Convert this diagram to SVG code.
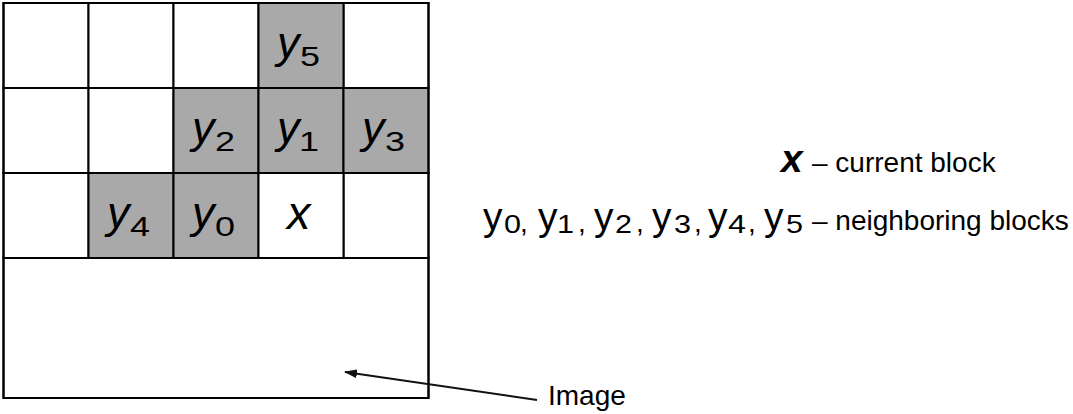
<svg xmlns="http://www.w3.org/2000/svg" width="1073" height="414" viewBox="0 0 1073 414">
  <style>
    .cell { fill: #ffffff; stroke: #000000; stroke-width: 2; }
    .cell.on { fill: #a9a9a9; }
    .frame { fill: none; stroke: #000000; stroke-width: 2; }
    .var { font-family: "Liberation Sans", Arial, sans-serif; font-style: italic; font-size: 45px; fill: #000; }
    .idx { font-family: "Liberation Sans", Arial, sans-serif; font-size: 28px; fill: #000; }
    .lbl { font-family: "Liberation Sans", Arial, sans-serif; font-size: 28px; fill: #000; }
    .ly { font-family: "Liberation Sans", Arial, sans-serif; font-size: 39px; fill: #000; }
    .lidx { font-family: "Liberation Sans", Arial, sans-serif; font-size: 25px; fill: #000; }
    .lx { font-family: "Liberation Sans", Arial, sans-serif; font-size: 39px; font-weight: bold; font-style: italic; fill: #000; }
    .conn { stroke: #111111; stroke-width: 2; fill: none; }
  </style>
  <defs>
    <marker id="head" viewBox="0 0 13 9" refX="12" refY="4.5" markerWidth="13" markerHeight="9" markerUnits="userSpaceOnUse" orient="auto">
      <path d="M0,0 L13,4.5 L0,9 Z" fill="#111111"/>
    </marker>
  </defs>

  <!-- block grid: three rows of five blocks -->
  <g id="grid">
    <rect class="cell" x="3.5" y="3" width="85" height="85"/>
    <rect class="cell" x="88.5" y="3" width="85" height="85"/>
    <rect class="cell" x="173.5" y="3" width="85" height="85"/>
    <rect class="cell" x="343.5" y="3" width="85" height="85"/>
    <rect class="cell" x="3.5" y="88" width="85" height="85"/>
    <rect class="cell" x="88.5" y="88" width="85" height="85"/>
    <rect class="cell" x="3.5" y="173" width="85" height="85"/>
    <rect class="cell" x="343.5" y="173" width="85" height="85"/>
  </g>

  <g id="y5">
    <rect class="cell on" x="258.5" y="3" width="85" height="85"/>
    <text class="var" x="277" y="58">y</text>
    <text class="idx" x="300" y="66" textLength="20" lengthAdjust="spacingAndGlyphs">5</text>
  </g>
  <g id="y2">
    <rect class="cell on" x="173.5" y="88" width="85" height="85"/>
    <text class="var" x="192" y="143">y</text>
    <text class="idx" x="215" y="151" textLength="20" lengthAdjust="spacingAndGlyphs">2</text>
  </g>
  <g id="y1">
    <rect class="cell on" x="258.5" y="88" width="85" height="85"/>
    <text class="var" x="277" y="143">y</text>
    <text class="idx" x="299" y="151" textLength="20" lengthAdjust="spacingAndGlyphs">1</text>
  </g>
  <g id="y3">
    <rect class="cell on" x="343.5" y="88" width="85" height="85"/>
    <text class="var" x="362" y="143">y</text>
    <text class="idx" x="385" y="151" textLength="20" lengthAdjust="spacingAndGlyphs">3</text>
  </g>
  <g id="y4">
    <rect class="cell on" x="88.5" y="173" width="85" height="85"/>
    <text class="var" x="107" y="228">y</text>
    <text class="idx" x="130" y="236" textLength="20" lengthAdjust="spacingAndGlyphs">4</text>
  </g>
  <g id="y0">
    <rect class="cell on" x="173.5" y="173" width="85" height="85"/>
    <text class="var" x="192" y="228">y</text>
    <text class="idx" x="215" y="236" textLength="20" lengthAdjust="spacingAndGlyphs">0</text>
  </g>
  <g id="x">
    <rect class="cell" x="258.5" y="173" width="85" height="85"/>
    <text class="var" x="287" y="229" style="font-size:47px">x</text>
  </g>

  <!-- remaining image area and outer frame -->
  <g id="image">
    <rect class="frame" x="3.5" y="258" width="425" height="140"/>
    <rect class="frame" x="3.5" y="3" width="425" height="395"/>
    <text class="lbl" x="548" y="405">Image</text>
  </g>

  <g id="connectors">
    <line class="conn" x1="537" y1="400" x2="345" y2="372" marker-end="url(#head)"/>
  </g>

  <!-- legend -->
  <g id="legend">
    <text class="lx" x="781" y="172">x</text>
    <text class="lbl" x="812" y="172">– current block</text>

    <text class="ly" x="483" y="230">y</text>
    <text class="lidx" x="504" y="233" textLength="17" lengthAdjust="spacingAndGlyphs">0</text>
    <text class="lbl" x="520" y="232">,</text>

    <text class="ly" x="538" y="230">y</text>
    <text class="lidx" x="557" y="233" textLength="17" lengthAdjust="spacingAndGlyphs">1</text>
    <text class="lbl" x="578" y="232">,</text>

    <text class="ly" x="594" y="230">y</text>
    <text class="lidx" x="615" y="233" textLength="17" lengthAdjust="spacingAndGlyphs">2</text>
    <text class="lbl" x="636" y="232">,</text>

    <text class="ly" x="652" y="230">y</text>
    <text class="lidx" x="674" y="233" textLength="17" lengthAdjust="spacingAndGlyphs">3</text>
    <text class="lbl" x="694" y="232">,</text>

    <text class="ly" x="708" y="230">y</text>
    <text class="lidx" x="728" y="233" textLength="18" lengthAdjust="spacingAndGlyphs">4</text>
    <text class="lbl" x="748" y="232">,</text>

    <text class="ly" x="764" y="230">y</text>
    <text class="lidx" x="786" y="233" textLength="17" lengthAdjust="spacingAndGlyphs">5</text>

    <text class="lbl" x="812" y="230">– neighboring blocks</text>
  </g>
</svg>
